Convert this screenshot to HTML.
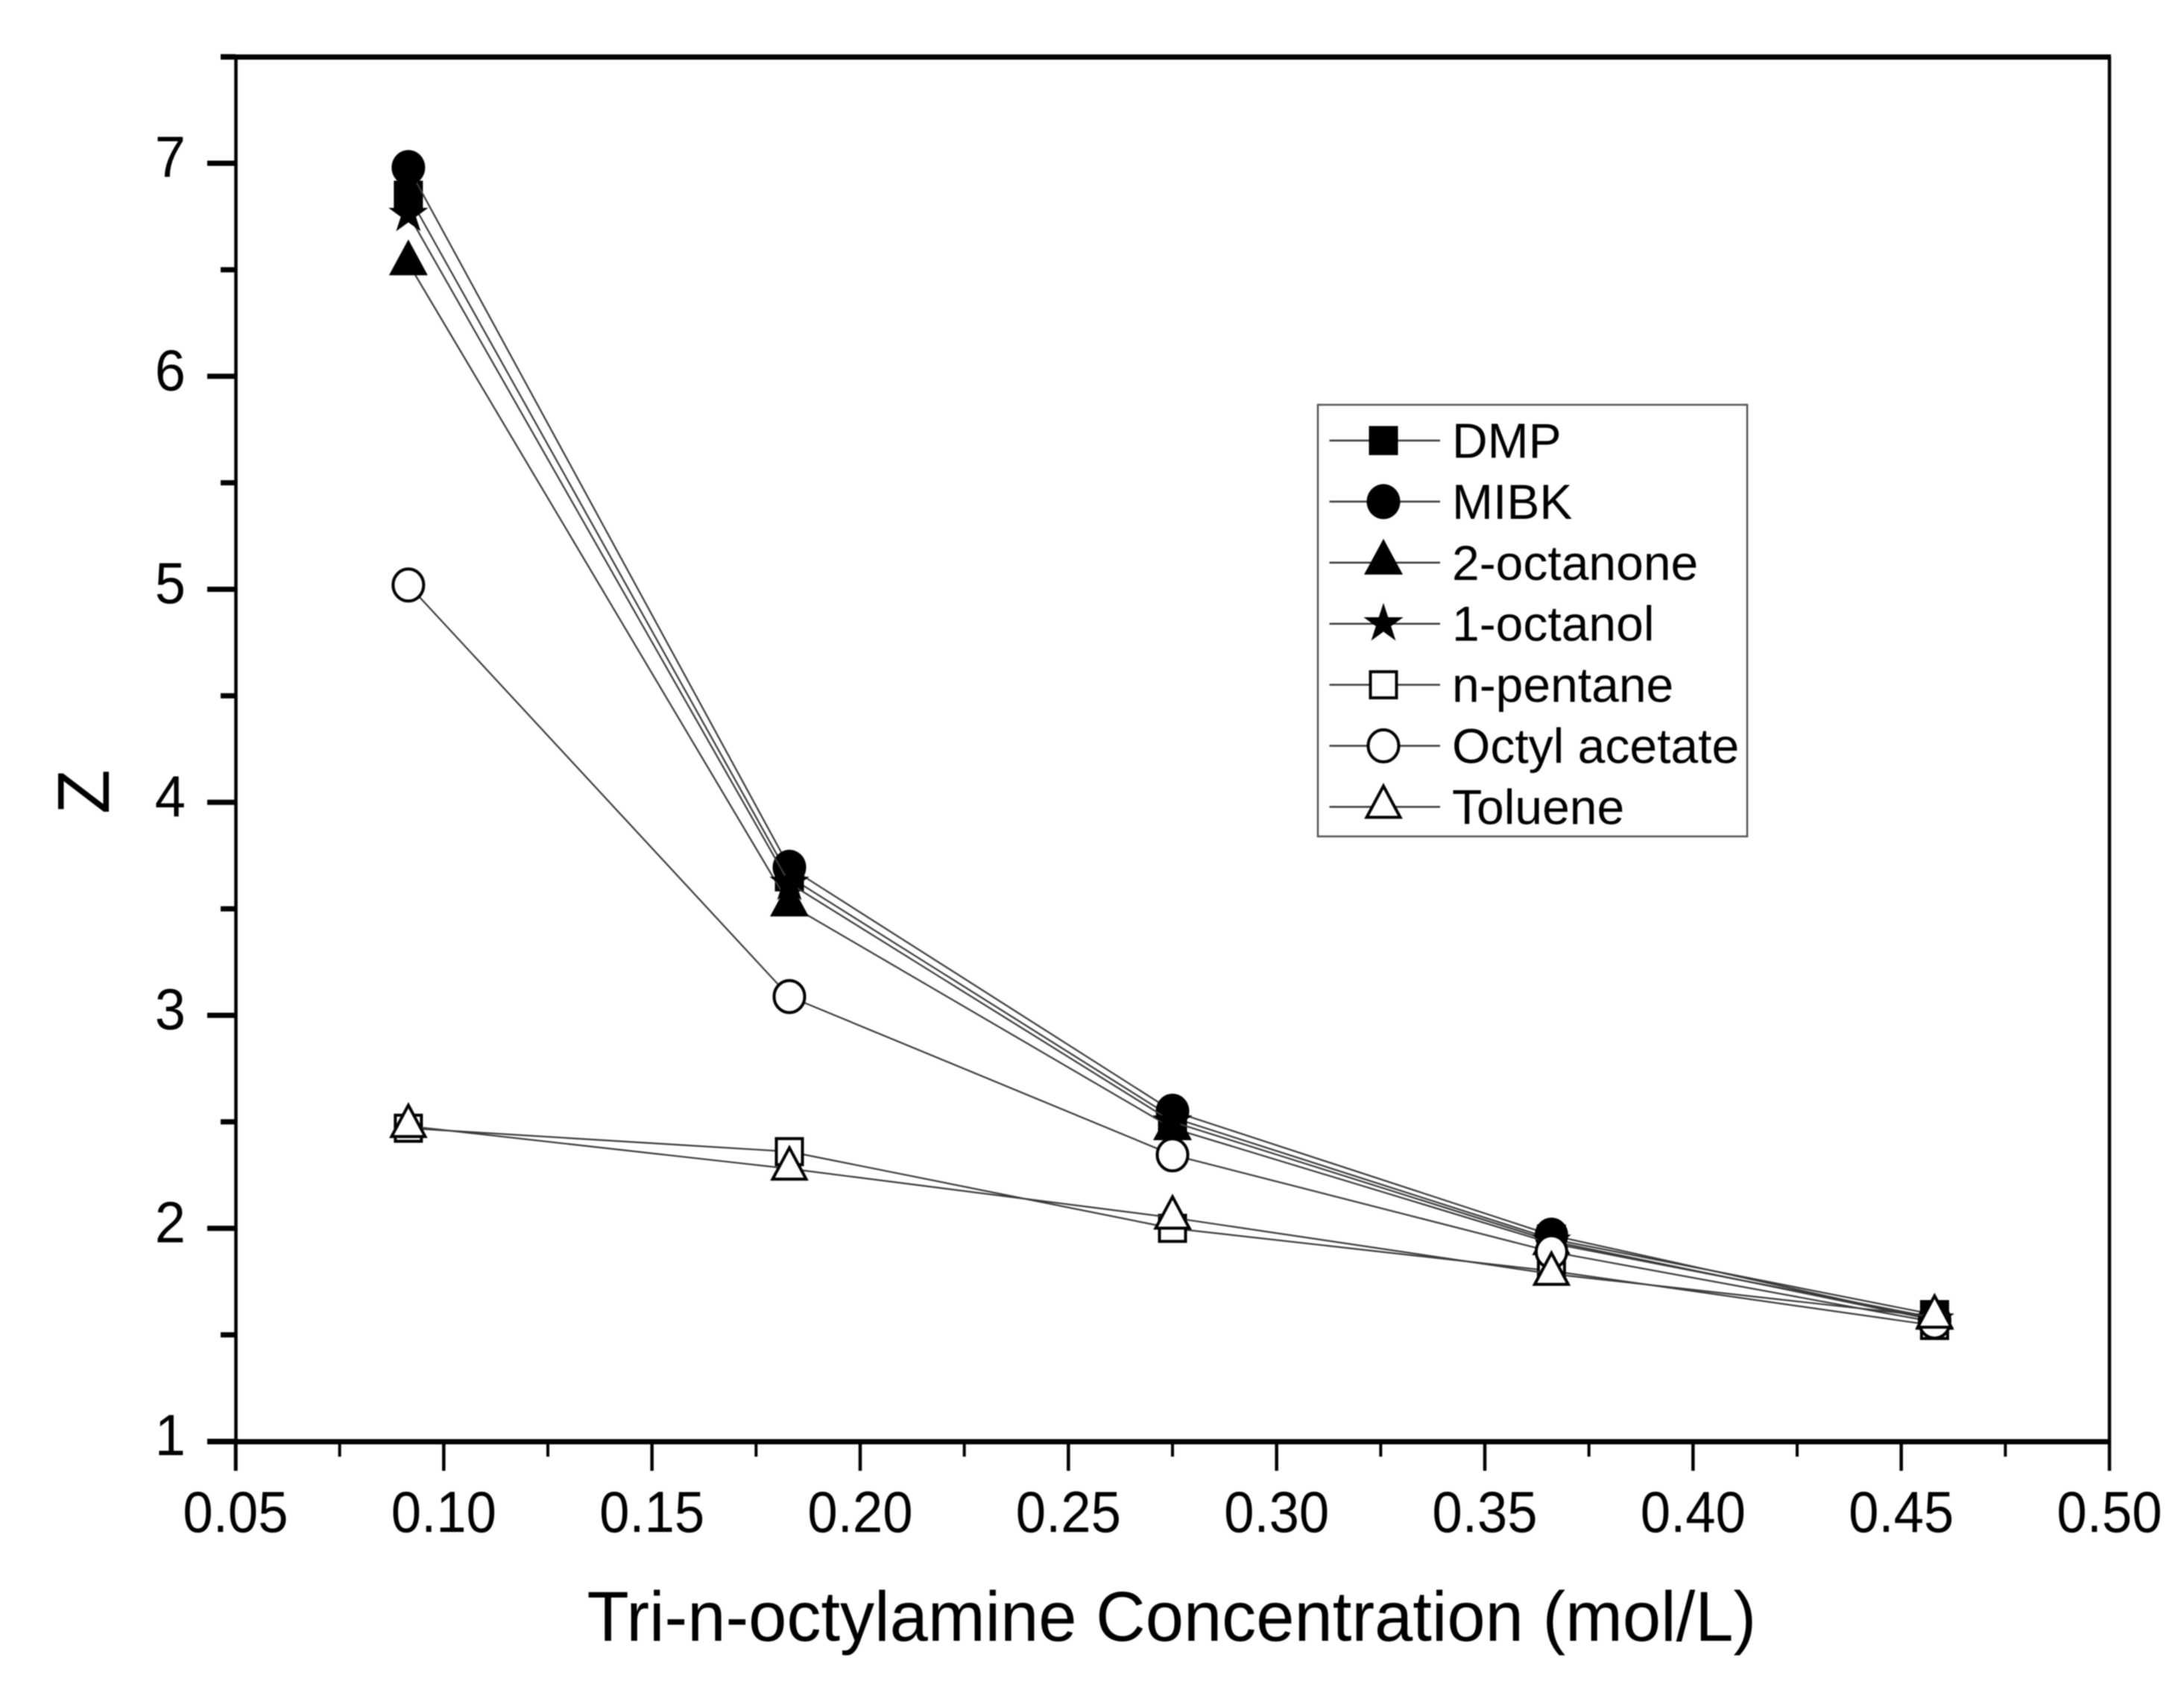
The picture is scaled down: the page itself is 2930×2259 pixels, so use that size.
<!DOCTYPE html>
<html lang="en">
<head>
<meta charset="utf-8">
<title>Z vs Tri-n-octylamine Concentration</title>
<style>
html,body{margin:0;padding:0;background:#fff;}
body{width:2930px;height:2259px;overflow:hidden;}
svg{display:block;filter:blur(0.7px);}
text{font-family:"Liberation Sans",Arial,sans-serif;fill:#000;}
</style>
</head>
<body>
<svg id="chart" xmlns="http://www.w3.org/2000/svg" width="2930" height="2259" viewBox="0 0 2930 2259"></svg>
<script>
const categories = [0.0915, 0.183, 0.275, 0.366, 0.458];
const seriesNames = ['DMP', 'MIBK', '2-octanone', '1-octanol', 'n-pentane', 'Octyl acetate', 'Toluene'];
const seriesMarkers = ['square', 'circle', 'triangle', 'star', 'open-square', 'open-circle', 'open-triangle'];
const dmpValues = [6.85, 3.65, 2.52, 1.95, 1.595];
const mibkValues = [6.98, 3.695, 2.55, 1.968, 1.57];
const octanoneValues = [6.53, 3.52, 2.47, 1.93, 1.58];
const octanolValues = [6.76, 3.62, 2.50, 1.94, 1.57];
const pentaneValues = [2.47, 2.36, 2.00, 1.80, 1.544];
const octylAcetateValues = [5.02, 3.088, 2.345, 1.89, 1.56];
const tolueneValues = [2.48, 2.28, 2.05, 1.786, 1.585];
const seriesValues = [dmpValues, mibkValues, octanoneValues, octanolValues, pentaneValues, octylAcetateValues, tolueneValues];
const xTickLabels = ['0.05', '0.10', '0.15', '0.20', '0.25', '0.30', '0.35', '0.40', '0.45', '0.50'];
const xMinorTicks = [0.075, 0.125, 0.175, 0.225, 0.275, 0.325, 0.375, 0.425, 0.475];
const yTickLabels = ['1', '2', '3', '4', '5', '6', '7'];
const yMinorTicks = [1.5, 2.5, 3.5, 4.5, 5.5, 6.5, 7.5];

const SVG_NS = 'http://www.w3.org/2000/svg';
const svg = document.getElementById('chart');
const LINE = '#3a3a3a';

function xScale(v) { return 316 + (v - 0.05) / 0.45 * (2830 - 316); }
function yScale(v) { return 1933.5 - (v - 1) * 285.75; }

function mk(tag, attrs, parent) {
  const el = document.createElementNS(SVG_NS, tag);
  for (const k in attrs) el.setAttribute(k, attrs[k]);
  (parent || svg).appendChild(el);
  return el;
}

function drawMarker(kind, cx, cy, parent) {
  const open = kind.indexOf('open') === 0;
  const fill = open ? '#fff' : '#000';
  const stroke = open ? '#000' : 'none';
  const sw = open ? 4 : 0;
  const shape = kind.replace('open-', '');
  let el;
  if (shape === 'square') {
    const s = open ? 35 : 39;
    el = mk('rect', { x: cx - s / 2, y: cy - s / 2, width: s, height: s, fill: fill, stroke: stroke, 'stroke-width': sw }, parent);
  } else if (shape === 'circle') {
    el = mk('ellipse', { cx: cx, cy: cy, rx: open ? 20.5 : 22.5, ry: open ? 21.5 : 23.5, fill: fill, stroke: stroke, 'stroke-width': sw }, parent);
  } else if (shape === 'triangle') {
    const up = open ? 28 : 32, dn = open ? 14 : 16, hw = open ? 22.5 : 26;
    const pts = [[cx, cy - up], [cx + hw, cy + dn], [cx - hw, cy + dn]].map(function (p) { return p.join(','); }).join(' ');
    el = mk('polygon', { points: pts, fill: fill, stroke: stroke, 'stroke-width': sw, 'stroke-linejoin': 'miter' }, parent);
  } else {
    const pts = [];
    for (let i = 0; i < 10; i++) {
      const r = i % 2 === 0 ? 28 : 10.7;
      const a = -Math.PI / 2 + i * Math.PI / 5;
      pts.push((cx + r * Math.cos(a)) + ',' + (cy + r * Math.sin(a)));
    }
    el = mk('polygon', { points: pts.join(' '), fill: fill }, parent);
  }
  return el;
}

/* frame */
const topAxis = mk('line', { x1: 296, x2: 2832, y1: 76.5, y2: 76.5, stroke: '#000', 'stroke-width': 7 });


const rightAxis = mk('line', { x1: 2830, x2: 2830, y1: 76, y2: 1934, stroke: '#000', 'stroke-width': 4.5 });


const leftAxis = mk('line', { x1: 316.5, x2: 316.5, y1: 76, y2: 1973, stroke: '#000', 'stroke-width': 4.5 });


const bottomAxis = mk('line', { x1: 278, x2: 2832, y1: 1934, y2: 1934, stroke: '#000', 'stroke-width': 7 });



/* x ticks */
xTickLabels.forEach(function (lab) {
  const v = parseFloat(lab);
  const px = xScale(v);
  const tick = mk('line', { x1: px, x2: px, y1: 1934, y2: 1973, stroke: '#000', 'stroke-width': 4.5 });
  
  
  const t = mk('text', { transform: 'translate(' + px + ',2055) scale(0.93,1)', 'font-size': 78, 'text-anchor': 'middle' });
  t.textContent = lab;
  
  
});
xMinorTicks.forEach(function (v) {
  const px = xScale(v);
  const tick = mk('line', { x1: px, x2: px, y1: 1934, y2: 1954, stroke: '#000', 'stroke-width': 4 });
  
  
});

/* y ticks */
yTickLabels.forEach(function (lab) {
  const v = parseFloat(lab);
  const py = yScale(v);
  const tick = mk('line', { x1: 278, x2: 316, y1: py, y2: py, stroke: '#000', 'stroke-width': 7 });
  
  
  const t = mk('text', { transform: 'translate(249,' + (py + 18.5) + ') scale(0.95,1)', 'font-size': 78, 'text-anchor': 'end' });
  t.textContent = lab;
  
  
});
yMinorTicks.forEach(function (v) {
  const py = yScale(v);
  const tick = mk('line', { x1: 296, x2: 316, y1: py, y2: py, stroke: '#000', 'stroke-width': 7 });
  
  
});

/* axis titles */
const xTitle = mk('text', { transform: 'translate(787.5,2201) scale(0.97,1)', 'font-size': 95 });
xTitle.textContent = 'Tri-n-octylamine Concentration (mol/L)';


const yTitle = mk('text', { transform: 'translate(146,1062) rotate(-90)', 'font-size': 98, 'text-anchor': 'middle' });
yTitle.textContent = 'Z';



/* series */
seriesValues.forEach(function (vals, i) {
  const g = mk('g', {});
  
  
  const pts = vals.map(function (v, j) { return xScale(categories[j]) + ',' + yScale(v); }).join(' ');
  const line = mk('polyline', { points: pts, fill: 'none', stroke: LINE, 'stroke-width': 2.2 }, g);
  
  
  vals.forEach(function (v, j) {
    const m = drawMarker(seriesMarkers[i], xScale(categories[j]), yScale(v), g);
    
    
  });
});

/* legend */
const legend = mk('g', {});


const legendBox = mk('rect', { x: 1768, y: 543, width: 576, height: 579, fill: '#fff', stroke: '#555', 'stroke-width': 2.5 }, legend);


seriesNames.forEach(function (name, i) {
  const rowY = 591 + i * 81.9;
  const entry = mk('g', {}, legend);
  
  
  const swatch = mk('line', { x1: 1783.5, x2: 1932, y1: rowY, y2: rowY, stroke: LINE, 'stroke-width': 2.5 }, entry);
  
  
  const mark = drawMarker(seriesMarkers[i], 1856, rowY, entry);
  
  
  const label = mk('text', { x: 1948, y: rowY + 23, 'font-size': 66 }, entry);
  label.textContent = name;
  
  
});
</script>
</body>
</html>
